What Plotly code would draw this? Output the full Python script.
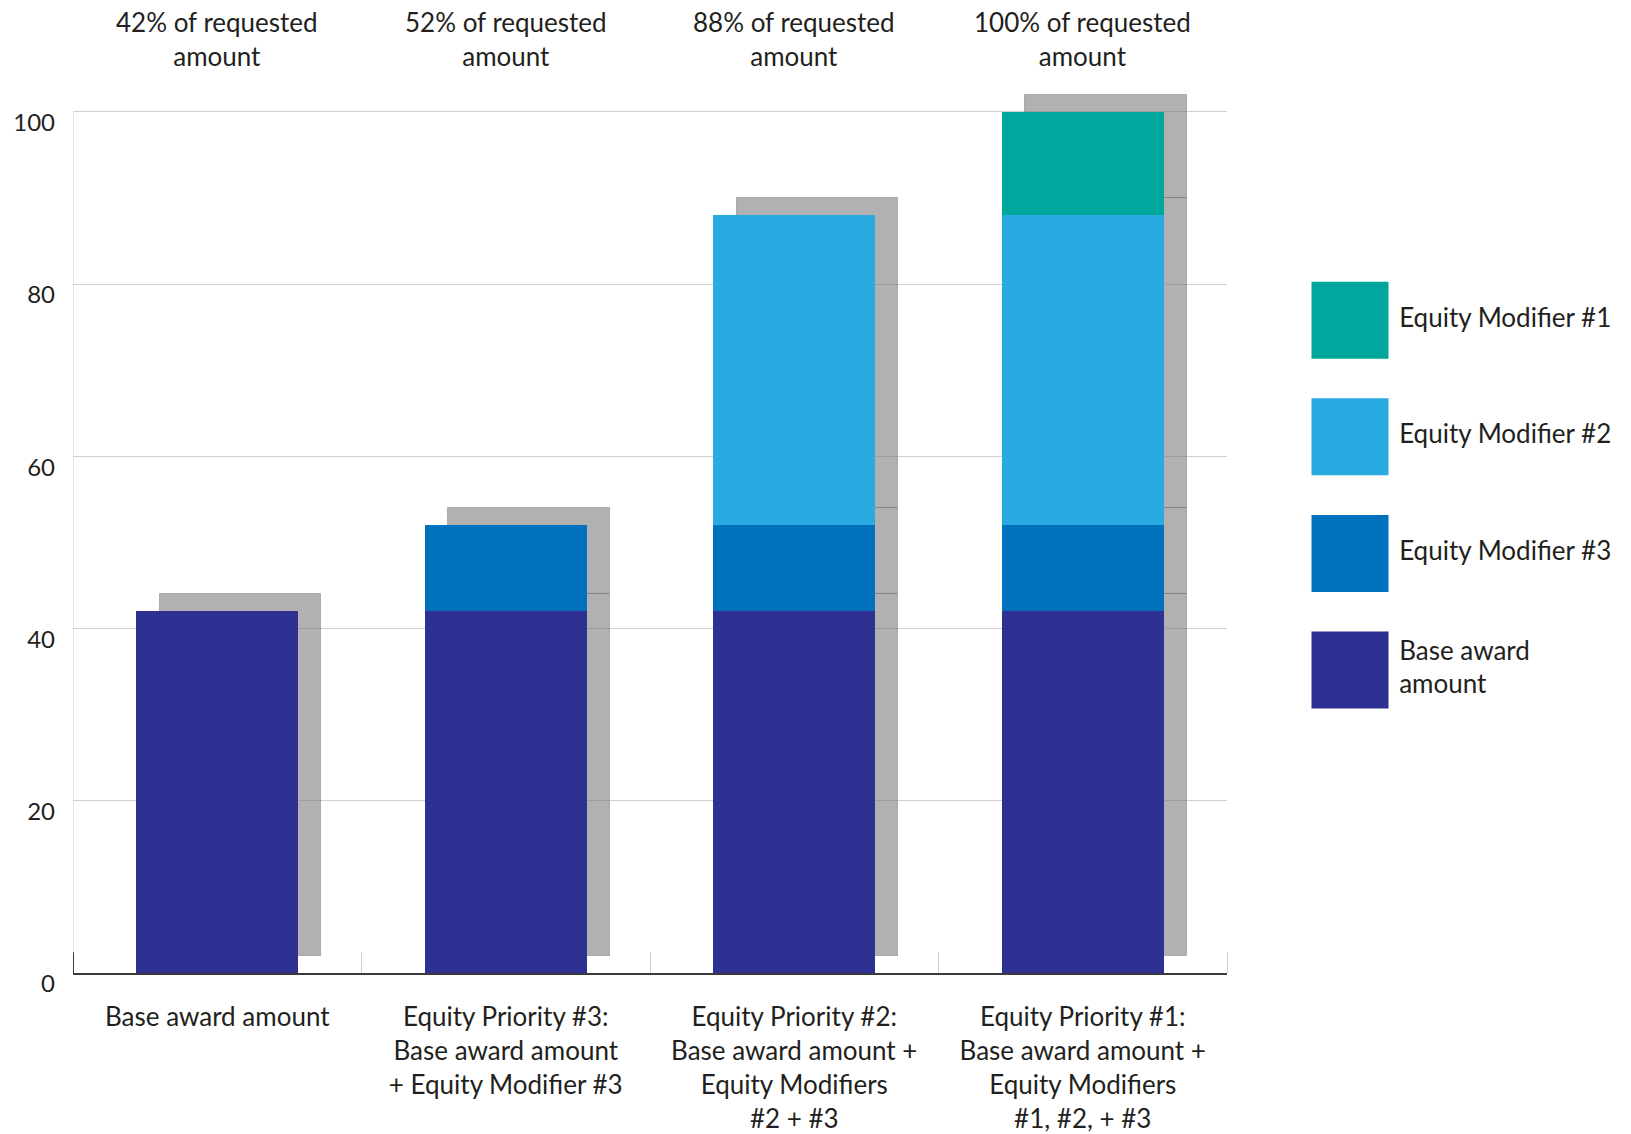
import plotly.graph_objects as go

# ---------------- data ----------------
categories = [
    "Base award amount",
    "Equity Priority #3:<br>Base award amount<br>+ Equity Modifier #3",
    "Equity Priority #2:<br>Base award amount +<br>Equity Modifiers<br>#2 + #3",
    "Equity Priority #1:<br>Base award amount +<br>Equity Modifiers<br>#1, #2, + #3",
]
top_labels = [
    "42% of requested<br>amount",
    "52% of requested<br>amount",
    "88% of requested<br>amount",
    "100% of requested<br>amount",
]
base_award = [42, 42, 42, 42]
modifier_3 = [0, 10, 10, 10]
modifier_2 = [0, 0, 36, 36]
modifier_1 = [0, 0, 0, 12]
series_names = ["Base award amount", "Equity Modifier #3", "Equity Modifier #2", "Equity Modifier #1"]
legend_labels = ["Equity Modifier #1", "Equity Modifier #2", "Equity Modifier #3", "Base award<br>amount"]
y_ticks = [0, 20, 40, 60, 80, 100]
y_top = 100

# ---------------- style ----------------
FONT = "Lato"
TXT = "#231F20"
FS = 26
colors = {
    "Base award amount": "#2E3192",
    "Equity Modifier #3": "#0071BC",
    "Equity Modifier #2": "#29ABE2",
    "Equity Modifier #1": "#00A79D",
}
legend_colors = [colors["Equity Modifier #1"], colors["Equity Modifier #2"],
                 colors["Equity Modifier #3"], colors["Base award amount"]]
BAR_W = 0.56
SH_DX = 0.08     # shadow offset (category units)
SH_DY = 2        # shadow lift (value units)
SH_COLOR = "rgba(125,125,125,0.6)"
GRID = "#d0d0d0"

series = [base_award, modifier_3, modifier_2, modifier_1]
pos = list(range(len(categories)))

fig = go.Figure()

# cumulative bases
bases = []
cum = [0] * len(pos)
for s in series:
    bases.append(list(cum))
    cum = [c + v for c, v in zip(cum, s)]

# shadows
for name, s, b in zip(series_names, series, bases):
    fig.add_trace(go.Bar(
        x=[p + SH_DX for p in pos],
        y=[v if v else None for v in s],
        base=[bb + SH_DY for bb in b],
        width=BAR_W,
        marker=dict(color=SH_COLOR, line=dict(color="rgba(90,90,90,0.35)", width=1)),
        showlegend=False, hoverinfo="skip",
        xaxis="x", yaxis="y",
    ))

# main stacked bars
for name, s, b in zip(series_names, series, bases):
    fig.add_trace(go.Bar(
        x=pos, y=[v if v else None for v in s], base=b, width=BAR_W, name=name,
        marker=dict(color=colors[name], line=dict(width=0)),
        showlegend=False,
        xaxis="x", yaxis="y",
    ))

# custom legend (big swatches)
fig.add_trace(go.Scatter(
    x=[0] * len(legend_labels), y=list(range(len(legend_labels))),
    mode="markers+text",
    marker=dict(symbol="square", size=77, color=legend_colors, line=dict(width=0)),
    text=legend_labels, textposition="middle right",
    textfont=dict(family=FONT, size=FS, color=TXT),
    showlegend=False, hoverinfo="skip", cliponaxis=False,
    xaxis="x2", yaxis="y2",
))

# top labels
for p, t in zip(pos, top_labels):
    fig.add_annotation(x=p, y=y_top, xref="x", yref="y", yanchor="bottom", yshift=38,
                       text=t, showarrow=False, font=dict(family=FONT, size=FS, color=TXT))

# y-axis line (stops at 100) and dark bit at its bottom
fig.add_shape(type="line", xref="x", yref="y", x0=-0.5, x1=-0.5, y0=0, y1=y_top,
              line=dict(color=GRID, width=1))
fig.add_shape(type="line", xref="x", yref="y", x0=-0.5, x1=-0.5, y0=0, y1=2.4,
              line=dict(color="#3a3a3a", width=2))

DOM = (1227 - 73) / (1631 - 73)

fig.update_layout(
    width=1631, height=1134,
    margin=dict(l=73, r=0, t=86, b=155),
    paper_bgcolor="white", plot_bgcolor="white",
    barmode="overlay", bargap=0,
    font=dict(family=FONT, size=FS, color=TXT),
    showlegend=False,
    xaxis=dict(
        domain=[0, DOM], range=[-0.5, 3.5],
        tickmode="array", tickvals=pos, ticktext=categories,
        ticks="", showgrid=False, zeroline=False,
        showline=True, linecolor="#3a3a3a", linewidth=2,
        ticklabelstandoff=20,
        tickfont=dict(family=FONT, size=FS, color=TXT),
        minor=dict(tickmode="array", tickvals=[0.5, 1.5, 2.5, 3.5], ticks="inside",
                   ticklen=21, tickcolor="#cfcfcf", tickwidth=1, showgrid=False),
    ),
    yaxis=dict(
        range=[0, 103], tickmode="array", tickvals=y_ticks,
        showgrid=True, gridcolor=GRID, gridwidth=1,
        zeroline=False, showline=False,
        ticks="", ticklabelstandoff=17, ticklabelshift=11,
        tickfont=dict(family=FONT, size=24, color=TXT),
    ),
    xaxis2=dict(domain=[DOM, 1], range=[-123, 281], visible=False, anchor="y2"),
    yaxis2=dict(domain=[0, 1], range=[5.60, -2.01], visible=False, anchor="x2"),
)

fig.write_html("out.html")
